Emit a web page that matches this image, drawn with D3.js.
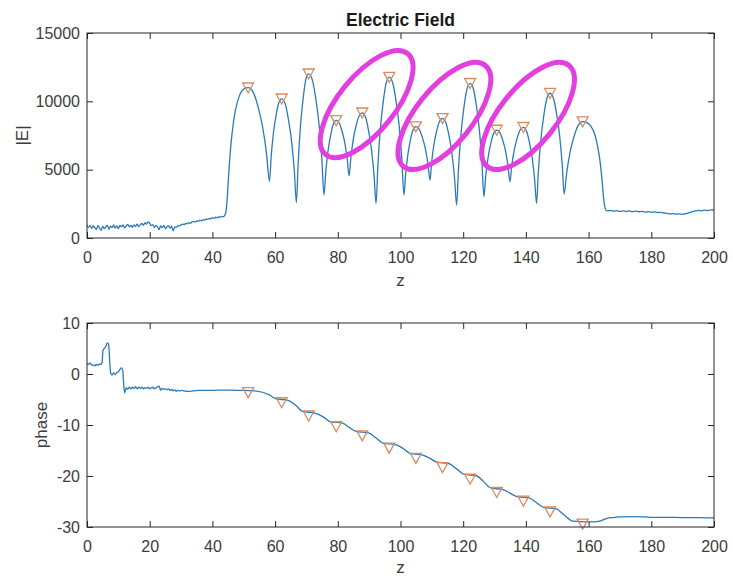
<!DOCTYPE html>
<html>
<head>
<meta charset="utf-8">
<script src="https://cdn.jsdelivr.net/npm/d3@7"></script>
<style>
  body { margin: 0; background: #fff; }
  svg { display: block; }
  text { font-family: "Liberation Sans", Arial, Helvetica, sans-serif; }
</style>
</head>
<body>
<svg id="chart" width="733" height="578"></svg>
<script>
// Axis ticks
const zTicks = [0, 20, 40, 60, 80, 100, 120, 140, 160, 180, 200];
const magTicks = [0, 5000, 10000, 15000];
const phaseTicks = [-30, -20, -10, 0, 10];

// |E| along z: [z, |E|]
const fieldMagnitude = [
  [0,950],[0.5,780],[1,900],[1.5,700],[2,880],[2.5,760],[3,640],[3.5,900],[4,740],[4.5,560],
  [5,860],[5.5,680],[6,820],[6.5,920],[7,640],[7.5,860],[8,760],[8.5,960],[9,720],[9.5,880],
  [10,680],[10.5,920],[11,820],[11.5,960],[12,740],[12.5,880],[13,1000],[13.5,820],[14,920],[14.5,780],
  [15,960],[15.5,860],[16,1020],[16.5,840],[17,980],[17.5,1060],[18,920],[18.5,1120],[19,1020],[19.5,1180],
  [20,1080],[20.5,900],[21,980],[21.5,760],[22,920],[22.5,820],[23,620],[23.5,880],[24,760],[24.5,920],
  [25,680],[25.5,820],[26,900],[26.5,720],[27,860],[27.5,520],[28,820],[28.5,780],[29,900],[29.5,880],
  [30,960],[30.5,1020],[31,980],[31.5,1060],[32,1040],[32.5,1120],[33,1080],[33.5,1180],[34,1220],[34.5,1160],
  [35,1260],[35.5,1220],[36,1300],[36.5,1260],[37,1340],[37.5,1300],[38,1400],[38.5,1360],[39,1440],[39.5,1400],
  [40,1480],[40.5,1440],[41,1520],[41.5,1480],[42,1560],[42.5,1520],[43,1580],[43.5,1560],
  [43.9,1650],[44.3,1900],[44.7,2800],[45.1,4300],[45.6,6000],[46.3,7700],[47.3,9300],[48.6,10400],[50.0,10900],
  [51.4,11000],[53.03,10660],[54.53,9630],[56.02,8120],[57.25,6210],
  [58.2,4150],[58.75,5960],[59.45,7650],[60.31,8980],[61.16,9880],
  [62.1,10185],[63.23,9805],[64.26,8665],[65.3,6995],[66.14,4870],
  [66.8,2590],[67.35,5420],[68.05,8060],[68.91,10130],[69.76,11545],
  [70.7,12015],[71.88,11570],[72.95,10240],[74.03,8290],[74.91,5810],
  [75.6,3150],[76.15,4785],[76.85,6310],[77.71,7510],[78.56,8330],
  [79.5,8600],[80.48,8400],[81.39,7790],[82.29,6895],[83.03,5760],
  [83.6,4540],[84.19,5925],[84.94,7220],[85.87,8235],[86.79,8930],
  [87.8,9160],[88.86,8830],[89.82,7835],[90.79,6380],[91.58,4525],
  [92.2,2540],[92.79,5310],[93.54,7895],[94.47,9925],[95.39,11310],
  [96.4,11770],[97.53,11340],[98.56,10045],[99.6,8150],[100.44,5735],
  [101.1,3150],[101.63,4650],[102.32,6045],[103.15,7145],[103.99,7895],
  [104.9,8145],[105.98,7950],[106.97,7365],[107.96,6505],[108.77,5410],
  [109.4,4240],[109.96,5595],[110.68,6860],[111.56,7850],[112.44,8530],
  [113.4,8755],[114.48,8440],[115.47,7485],[116.46,6090],[117.27,4315],
  [117.9,2410],[118.5,5085],[119.28,7580],[120.22,9540],[121.17,10875],
  [122.2,11320],[123.26,10905],[124.22,9660],[125.19,7835],[125.98,5510],
  [126.6,3020],[127.17,4485],[127.91,5850],[128.81,6925],[129.72,7655],
  [130.7,7900],[131.71,7710],[132.63,7145],[133.56,6310],[134.31,5255],
  [134.9,4120],[135.5,5315],[136.28,6430],[137.22,7305],[138.17,7900],
  [139.2,8100],[140.21,7820],[141.13,6990],[142.06,5765],[142.81,4210],
  [143.4,2540],[144.0,4955],[144.78,7210],[145.72,8980],[146.67,10190],
  [147.7,10590],[148.78,10220],[149.77,9115],[150.76,7495],[151.57,5430],
  [152.2,3220],[153.03,4805],[154.09,6290],[155.39,7450],[156.68,8245],
  [158.1,8510],[159.6,8420],[160.8,8150],[161.8,7700],[162.8,6800],[163.6,5700],
  [164.3,4200],[164.8,2900],[165.3,2150],[165.8,1990],
  [166,1990],[167,2010],[168,1960],[169,2000],[170,1950],[171,1990],[172,1940],[173,1980],[174,1930],[175,1960],
  [176,1920],[177,1950],[178,1900],[179,1930],[180,1890],[181,1910],[182,1860],[183,1880],[184,1830],[185,1800],
  [186,1760],[187,1790],[188,1740],[189,1770],[190,1730],[191,1780],[192,1850],[193,1920],[194,1980],[195,2020],
  [196,1990],[197,2040],[198,2010],[199,2060],[200,2050]
];

// phase along z: [z, phase]
const fieldPhase = [
  [0,2.1],[0.5,1.9],[1,2.2],[1.5,1.7],[2,1.8],[2.5,1.6],[3,1.9],[3.5,1.7],[4,2.0],[4.5,1.9],
  [4.8,2.2],[5.1,4.6],[5.5,5.0],[6.0,5.4],[6.5,6.1],[6.9,5.8],[7.2,3.0],[7.5,0.3],[8.0,-0.2],[8.5,0.2],
  [9.0,-0.1],[9.5,0.3],[10.0,0.4],[10.5,0.9],[11.0,1.2],[11.4,0.7],[11.7,-2.0],[12.0,-3.7],[12.5,-2.7],[13,-3.0],
  [13.5,-2.6],[14,-2.9],[14.5,-2.6],[15,-2.8],[15.5,-2.5],[16,-2.9],[16.5,-2.6],[17,-2.8],[17.5,-2.6],[18,-2.9],
  [18.5,-2.7],[19,-2.8],[19.5,-2.6],[20,-2.9],[20.5,-2.7],[21,-2.6],[21.5,-2.9],[22,-2.7],[22.5,-2.5],[23,-2.4],
  [23.5,-3.2],[24,-2.8],[24.5,-3.0],[25,-2.9],[25.5,-3.1],[26,-2.9],[26.5,-3.2],[27,-3.0],[27.5,-3.3],[28,-3.1],
  [28.5,-3.4],[29,-3.2],[29.5,-3.3],[30,-3.2],[32,-3.4],[34,-3.3],[36,-3.2],[40,-3.2],[44,-3.15],[48,-3.2],
  [50.0,-3.2],[53.6,-3.3],[58.2,-4.1],[60.1,-4.85],[64.1,-5.15],[66.8,-6.25],[68.7,-7.35],[72.7,-7.65],
  [75.6,-8.5],[77.5,-9.35],[81.5,-9.65],[83.6,-10.45],[85.8,-11.25],[89.8,-11.55],[92.2,-12.55],[94.4,-13.55],
  [98.4,-13.85],[101.1,-14.7],[102.9,-15.55],[106.9,-15.85],[109.4,-16.55],[111.4,-17.25],[115.4,-17.55],[117.9,-18.6],
  [120.2,-19.65],[124.2,-19.95],[126.6,-21.15],[128.7,-22.35],[132.7,-22.65],[134.9,-23.35],[137.2,-24.05],[141.2,-24.35],
  [143.4,-25.25],[145.7,-26.15],[149.7,-26.45],[152.2,-27.65],[155.0,-28.85],[159.5,-29.0],[161.5,-29.0],[163.5,-28.85],
  [165.0,-28.5],[166.5,-28.2],[168,-28.15],[170,-28.0],[175,-27.95],[180,-28.1],[185,-28.1],[190,-28.15],
  [195,-28.15],[200,-28.2]
];

// Detected |E| peaks and the phase at each of them
const peakZ = [51.4, 62.1, 70.7, 79.5, 87.8, 96.4, 104.9, 113.4, 122.2, 130.7, 139.2, 147.7, 158.1];
const peakMagnitude = [10990, 10185, 12015, 8600, 9160, 11770, 8145, 8755, 11320, 7900, 8100, 10590, 8510];
const peakPhase = [-3.6, -5.6, -8.2, -10.3, -12.1, -14.5, -16.5, -18.3, -20.6, -23.2, -24.9, -27.0, -29.4];

// Highlight rings around groups of peaks: centre in data units
const ringCentersZ = [89.2, 114.0, 140.7];
const ringCentersE = [9800, 8930, 8930];

// ---- drawing ----
const svg = d3.select("#chart");
const left = 87, right = 714;
const top1 = 33, bottom1 = 238;
const top2 = 323, bottom2 = 527;

const lineColor = "#2b7ab8";
const markerColor = "#dc8a5c";
const axisColor = "#262626";
const labelColor = "#3c3c3c";

const x = d3.scaleLinear().domain([0, 200]).range([left, right]);
const yMag = d3.scaleLinear().domain([0, 15000]).range([bottom1, top1]);
const yPh = d3.scaleLinear().domain([-30, 10]).range([bottom2, top2]);

const defs = svg.append("defs");
defs.append("clipPath").attr("id", "clip1")
  .append("rect").attr("x", left).attr("y", top1).attr("width", right - left).attr("height", bottom1 - top1);
defs.append("clipPath").attr("id", "clip2")
  .append("rect").attr("x", left).attr("y", top2).attr("width", right - left).attr("height", bottom2 - top2);

const tri = "M-5.5,-4.8L5.5,-4.8L0,5.2Z";
const plainNumber = d => String(d);   // hyphen-minus for negatives

function panel(y, yTicks, yTop, yBottom, data, peaks, clipId, yLabel, yLabelX, zLabelY) {
  const g = svg.append("g");

  // ticks on all four sides, pointing inward
  const styleAxis = sel => {
    sel.select(".domain").remove();
    sel.selectAll(".tick line").attr("stroke", axisColor).attr("stroke-width", 1);
    sel.selectAll(".tick text").attr("fill", labelColor).attr("font-size", 16)
      .style("font-family", '"Liberation Sans", Arial, sans-serif');
  };
  g.append("g").attr("transform", `translate(0,${yBottom})`)
    .call(d3.axisBottom(x).tickValues(zTicks).tickSize(-6).tickPadding(13.5).tickFormat(plainNumber))
    .call(styleAxis);
  g.append("g").attr("transform", `translate(0,${yTop})`)
    .call(d3.axisTop(x).tickValues(zTicks).tickSize(-6).tickFormat(""))
    .call(styleAxis);
  g.append("g").attr("transform", `translate(${left},0)`)
    .call(d3.axisLeft(y).tickValues(yTicks).tickSize(-6).tickPadding(7).tickFormat(plainNumber))
    .call(styleAxis);
  g.append("g").attr("transform", `translate(${right},0)`)
    .call(d3.axisRight(y).tickValues(yTicks).tickSize(-6).tickFormat(""))
    .call(styleAxis);

  // trace
  const line = d3.line().x(d => x(d[0])).y(d => y(d[1])).curve(d3.curveMonotoneX);
  g.append("path").datum(data)
    .attr("clip-path", `url(#${clipId})`)
    .attr("fill", "none").attr("stroke", lineColor).attr("stroke-width", 1.3)
    .attr("stroke-linejoin", "round")
    .attr("d", line);

  // peak markers
  g.append("g").selectAll("path").data(peaks).join("path")
    .attr("transform", d => `translate(${x(d[0])},${y(d[1])})`)
    .attr("d", tri)
    .attr("fill", "none").attr("stroke", markerColor).attr("stroke-width", 1.3);

  // frame
  g.append("rect").attr("x", left).attr("y", yTop).attr("width", right - left).attr("height", yBottom - yTop)
    .attr("fill", "none").attr("stroke", axisColor).attr("stroke-width", 1);

  // axis labels
  g.append("text").attr("x", (left + right) / 2).attr("y", zLabelY)
    .attr("text-anchor", "middle").attr("font-size", 17).attr("fill", labelColor).text("z");
  g.append("text")
    .attr("transform", `translate(${yLabelX},${(yTop + yBottom) / 2}) rotate(-90)`)
    .attr("text-anchor", "middle").attr("font-size", 17).attr("fill", labelColor).text(yLabel);
  return g;
}

panel(yMag, magTicks, top1, bottom1, fieldMagnitude,
  peakZ.map((z, i) => [z, peakMagnitude[i]]), "clip1", "|E|", 28, 286);
panel(yPh, phaseTicks, top2, bottom2, fieldPhase,
  peakZ.map((z, i) => [z, peakPhase[i]]), "clip2", "phase", 47, 573);

// title
svg.append("text").attr("x", (left + right) / 2).attr("y", 26)
  .attr("text-anchor", "middle").attr("font-size", 17.5).attr("font-weight", "bold")
  .attr("fill", "#1a1a1a").text("Electric Field");

// highlight rings
svg.append("g").selectAll("ellipse").data(ringCentersZ).join("ellipse")
  .attr("transform", (d, i) => `translate(${x(d)},${yMag(ringCentersE[i])}) rotate(-51)`)
  .attr("rx", 65).attr("ry", 28)
  .attr("fill", "none").attr("stroke", "#e23ee0").attr("stroke-width", 5);
</script>
</body>
</html>
